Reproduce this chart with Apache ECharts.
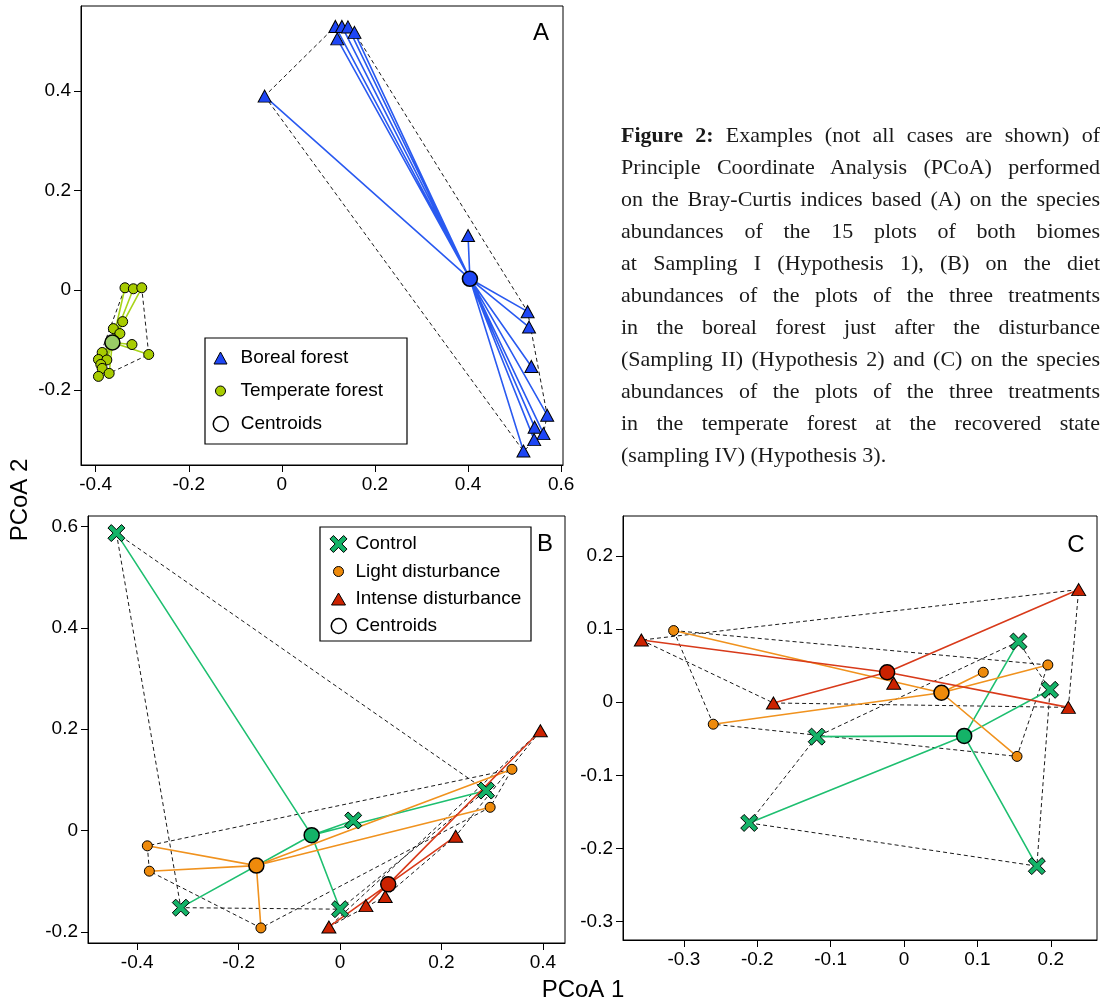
<!DOCTYPE html>
<html>
<head>
<meta charset="utf-8">
<script src="https://cdn.jsdelivr.net/npm/echarts@6/dist/echarts.min.js"></script>
<style>
  body { margin: 0; background: #fff; }
  #wrap { position: relative; width: 1100px; height: 1004px; }
  #chart { width: 1100px; height: 1004px; }
  #caption {
    position: absolute; left: 621px; top: 119px; width: 479px;
    font-family: "Liberation Serif", "DejaVu Serif", serif; font-size: 22px;
    line-height: 32px; color: #1a1a1a;
  }
  #caption .ln { text-align: justify; text-align-last: justify; }
  #caption .ln.last { text-align-last: left; }
</style>
</head>
<body>
<div id="wrap">
  <div id="chart"></div>
  <div id="caption">
    <div class="ln"><b>Figure 2:</b> Examples (not all cases are shown) of</div>
    <div class="ln">Principle Coordinate Analysis (PCoA) performed</div>
    <div class="ln">on the Bray-Curtis indices based (A) on the species</div>
    <div class="ln">abundances of the 15 plots of both biomes</div>
    <div class="ln">at Sampling I (Hypothesis 1), (B) on the diet</div>
    <div class="ln">abundances of the plots of the three treatments</div>
    <div class="ln">in the boreal forest just after the disturbance</div>
    <div class="ln">(Sampling II) (Hypothesis 2) and (C) on the species</div>
    <div class="ln">abundances of the plots of the three treatments</div>
    <div class="ln">in the temperate forest at the recovered state</div>
    <div class="ln last">(sampling IV) (Hypothesis 3).</div>
  </div>
</div>
<script>
// panel A: both biomes, sampling I
var borealX = [0.115, 0.129, 0.142, 0.156, 0.119, -0.037, 0.400, 0.528, 0.531, 0.536, 0.570, 0.543, 0.562, 0.542, 0.519];
var borealY = [0.530, 0.530, 0.529, 0.518, 0.505, 0.390, 0.110, -0.043, -0.074, -0.153, -0.251, -0.275, -0.288, -0.300, -0.323];
var temperateX = [-0.337, -0.319, -0.301, -0.342, -0.362, -0.348, -0.322, -0.286, -0.386, -0.394, -0.376, -0.389, -0.386, -0.371, -0.394];
var temperateY = [0.005, 0.003, 0.005, -0.063, -0.077, -0.087, -0.109, -0.129, -0.125, -0.139, -0.140, -0.149, -0.157, -0.167, -0.173];
var centroidAX = [0.404, -0.364];
var centroidAY = [0.023, -0.105];

// panel B: boreal forest, sampling II
var controlBX = [-0.441, 0.288, 0.026, -0.314, 0.000];
var controlBY = [0.587, 0.079, 0.020, -0.152, -0.155];
var lightBX = [-0.380, -0.376, -0.156, 0.339, 0.296];
var lightBY = [-0.030, -0.080, -0.192, 0.121, 0.046];
var intenseBX = [0.395, 0.228, 0.089, 0.051, -0.022];
var intenseBY = [0.197, -0.011, -0.130, -0.148, -0.190];
var centroidBX = [-0.056, -0.165, 0.095];
var centroidBY = [-0.009, -0.069, -0.106];

// panel C: temperate forest, sampling IV
var controlCX = [0.156, 0.199, -0.119, -0.211, 0.181];
var controlCY = [0.083, 0.017, -0.047, -0.165, -0.224];
var lightCX = [-0.314, -0.260, 0.108, 0.196, 0.154];
var lightCY = [0.098, -0.030, 0.041, 0.051, -0.074];
var intenseCX = [-0.358, -0.178, -0.014, 0.238, 0.224];
var intenseCY = [0.085, -0.001, 0.026, 0.154, -0.007];
var centroidCX = [0.082, 0.051, -0.023];
var centroidCY = [-0.046, 0.013, 0.041];

// ticks
var ticksAX = [-0.4, -0.2, 0, 0.2, 0.4, 0.6];
var ticksAY = [-0.2, 0, 0.2, 0.4];
var ticksBX = [-0.4, -0.2, 0, 0.2, 0.4];
var ticksBY = [-0.2, 0, 0.2, 0.4, 0.6];
var ticksCX = [-0.3, -0.2, -0.1, 0, 0.1, 0.2];
var ticksCY = [-0.3, -0.2, -0.1, 0, 0.1, 0.2];

var FONT = 'Liberation Sans';
var X_PATH = 'path://M2 0 L5 3 L8 0 L10 2 L7 5 L10 8 L8 10 L5 7 L2 10 L0 8 L3 5 L0 2 Z';
var BLUE = '#1e46f5', YG = '#a8cc00', GREEN = '#14b368', ORANGE = '#ee8a0b', RED = '#cc2200';

function hull(xs, ys) {
  var p = xs.map(function (x, i) { return [x, ys[i]]; }).sort(function (a, b) { return a[0] - b[0] || a[1] - b[1]; });
  var cross = function (o, a, b) { return (a[0] - o[0]) * (b[1] - o[1]) - (a[1] - o[1]) * (b[0] - o[0]); };
  var lo = [], up = [];
  p.forEach(function (q) {
    while (lo.length >= 2 && cross(lo[lo.length - 2], lo[lo.length - 1], q) <= 0) lo.pop();
    lo.push(q);
  });
  p.slice().reverse().forEach(function (q) {
    while (up.length >= 2 && cross(up[up.length - 2], up[up.length - 1], q) <= 0) up.pop();
    up.push(q);
  });
  lo.pop(); up.pop();
  var h = lo.concat(up);
  h.push(h[0]);
  return h;
}

function group(gi, name, xs, ys, cx, cy, fill, lineColor, cFill, symbol, size) {
  var spokes = [];
  xs.forEach(function (x, i) { spokes.push([cx, cy], [x, ys[i]]); });
  return [{
    type: 'line', xAxisIndex: gi, yAxisIndex: gi, data: hull(xs, ys),
    symbol: 'none', silent: true, z: 2,
    lineStyle: {color: '#1a1a1a', width: 1, type: [4, 3]}
  }, {
    type: 'line', xAxisIndex: gi, yAxisIndex: gi, data: spokes,
    symbol: 'none', silent: true, z: 3,
    lineStyle: {color: lineColor, width: 1.6}
  }, {
    type: 'scatter', name: name, xAxisIndex: gi, yAxisIndex: gi,
    data: xs.map(function (x, i) { return [x, ys[i]]; }),
    symbol: symbol, symbolSize: size, z: 4,
    itemStyle: {color: fill, borderColor: '#000', borderWidth: 1, opacity: 1}
  }, {
    type: 'scatter', name: 'Centroids', xAxisIndex: gi, yAxisIndex: gi,
    data: [[cx, cy]], symbol: 'circle', symbolSize: 15, z: 5,
    itemStyle: {color: cFill, borderColor: '#000', borderWidth: 1.5, opacity: 1}
  }];
}

function fmt(v) { return String(+(+v).toFixed(2)); }

function axis(gi, min, max, ticks) {
  return {
    type: 'value', gridIndex: gi, min: min, max: max,
    axisLine: {show: true, onZero: false, lineStyle: {color: '#000', width: 1}},
    axisTick: {show: true, inside: false, length: 7, customValues: ticks, lineStyle: {color: '#000', width: 1}},
    axisLabel: {customValues: ticks, formatter: fmt, color: '#000', fontSize: 19, fontFamily: FONT, margin: 10},
    splitLine: {show: false}
  };
}

function gridBox(left, top, width, height) {
  return {left: left, top: top, width: width, height: height, show: true,
    borderColor: '#000', borderWidth: 1, backgroundColor: 'transparent',
    containLabel: false, outerBoundsMode: 'none'};
}

function letter(text, x, y, size, rot) {
  return {type: 'text', x: x, y: y, rotation: rot || 0,
    style: {text: text, fill: '#000', font: size + 'px ' + FONT, align: 'center', verticalAlign: 'middle'}};
}

// one legend per entry so each icon keeps its own size
function legendItem(name, icon, w, h, cx, cy, textX, fill, bw) {
  var left = cx - w / 2;
  return {
    orient: 'vertical', left: left, top: cy - 10, padding: 0, z: 11,
    itemWidth: w, itemHeight: h, selectedMode: false,
    textStyle: {fontSize: 19, fontFamily: FONT, color: '#000', lineHeight: 20,
      padding: [0, 0, 0, textX - (left + w + 5)]},
    data: [{name: name, icon: icon, itemStyle: {color: fill, borderColor: '#000', borderWidth: bw}}]
  };
}

function legendBox(x, y, w, h) {
  return {type: 'rect', z: 10, shape: {x: x, y: y, width: w, height: h},
    style: {fill: '#fff', stroke: '#000', lineWidth: 1.2}};
}

var chart = echarts.init(document.getElementById('chart'));
chart.setOption({
  animation: false,
  backgroundColor: '#fff',
  grid: [gridBox(81, 6, 482, 459), gridBox(88, 516, 477, 427), gridBox(623, 516, 474, 424)],
  xAxis: [axis(0, -0.4315, 0.604, ticksAX), axis(1, -0.497, 0.4436, ticksBX), axis(2, -0.383, 0.263, ticksCX)],
  yAxis: [axis(0, -0.351, 0.571, ticksAY), axis(1, -0.2217, 0.6207, ticksBY), axis(2, -0.325, 0.2546, ticksCY)],
  legend: [
    legendItem('Boreal forest', 'triangle', 13, 12, 220, 358, 240, BLUE, 1),
    legendItem('Temperate forest', 'circle', 10, 10, 220, 391, 240, YG, 1),
    legendItem('Centroids', 'circle', 15, 15, 220, 424, 240, '#fff', 1.5),
    legendItem('Control', X_PATH, 17, 17, 338, 544, 355, GREEN, 1),
    legendItem('Light disturbance', 'circle', 10, 10, 338, 571.5, 355, ORANGE, 1),
    legendItem('Intense disturbance', 'triangle', 14, 12, 338, 599, 355, RED, 1),
    legendItem('Centroids', 'circle', 15, 15, 338, 626, 355, '#fff', 1.5)
  ],
  graphic: [
    legendBox(205, 338, 202, 106),
    legendBox(320, 527, 211, 114),
    letter('A', 541, 33, 24),
    letter('B', 545, 544, 24),
    letter('C', 1076, 545, 24),
    letter('PCoA 1', 583, 990, 24),
    letter('PCoA 2', 20, 500, 24, Math.PI / 2)
  ],
  series: [].concat(
    group(0, 'Boreal forest', borealX, borealY, centroidAX[0], centroidAY[0], BLUE, '#2a5af0', BLUE, 'triangle', [13, 12]),
    group(0, 'Temperate forest', temperateX, temperateY, centroidAX[1], centroidAY[1], YG, '#a8d41a', '#99cc66', 'circle', 10),
    group(1, 'Control', controlBX, controlBY, centroidBX[0], centroidBY[0], GREEN, '#1ebf70', GREEN, X_PATH, 17),
    group(1, 'Light disturbance', lightBX, lightBY, centroidBX[1], centroidBY[1], ORANGE, '#f0921e', ORANGE, 'circle', 10),
    group(1, 'Intense disturbance', intenseBX, intenseBY, centroidBX[2], centroidBY[2], RED, '#d83a1a', RED, 'triangle', [14, 12]),
    group(2, 'Control', controlCX, controlCY, centroidCX[0], centroidCY[0], GREEN, '#1ebf70', GREEN, X_PATH, 17),
    group(2, 'Light disturbance', lightCX, lightCY, centroidCX[1], centroidCY[1], ORANGE, '#f0921e', ORANGE, 'circle', 10),
    group(2, 'Intense disturbance', intenseCX, intenseCY, centroidCX[2], centroidCY[2], RED, '#d83a1a', RED, 'triangle', [14, 12])
  )
});
</script>
</body>
</html>
